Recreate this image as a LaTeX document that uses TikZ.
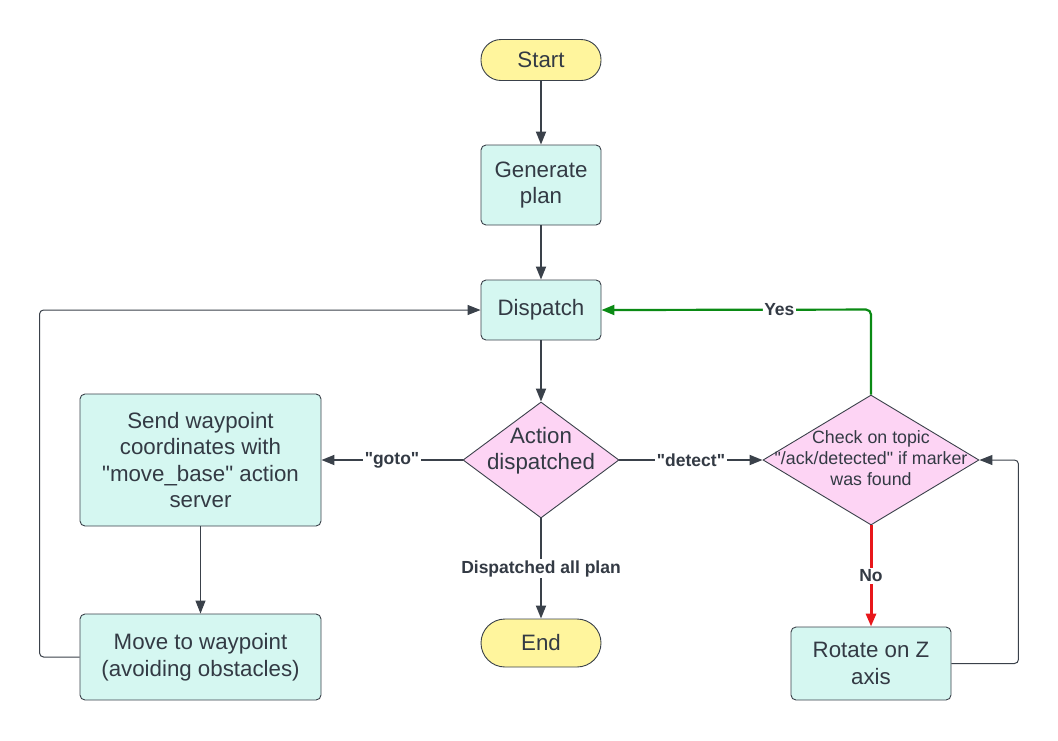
\documentclass[tikz,border=0pt]{standalone}
\usepackage{fontspec}
\setmainfont{Liberation Sans}
\usetikzlibrary{shapes.geometric, arrows.meta, positioning}
\definecolor{termYellow}{HTML}{FFF59D}
\definecolor{procTeal}{HTML}{D5F7F1}
\definecolor{decPink}{HTML}{FDD4F4}
\definecolor{lineGray}{HTML}{3A414A}
\definecolor{textGray}{HTML}{333A44}
\definecolor{yesGreen}{HTML}{0A8A14}
\definecolor{noRed}{HTML}{E8171B}
\newcommand{\qt}[1]{\textquotedbl#1\textquotedbl}

\begin{document}
\begin{tikzpicture}[x=1pt, y=-1pt,
    every node/.style={text=textGray},
    term/.style={draw=lineGray, line width=0.9pt, fill=termYellow, rounded corners=20pt, minimum width=120pt, inner sep=0pt, font=\fontsize{22.3}{26}\selectfont},
    proc/.style={draw=lineGray, line width=0.9pt, fill=procTeal, rounded corners=5pt, inner sep=0pt, align=center, font=\fontsize{22.3}{26.5}\selectfont},
    decision/.style={draw=lineGray, line width=0.9pt, fill=decPink, diamond, inner sep=0pt},
    flow/.style={draw=lineGray, line width=1.8pt, -{Triangle[length=13pt,width=10pt]}},
    thinflow/.style={draw=lineGray, line width=1pt, -{Triangle[length=13pt,width=10pt]}, rounded corners=4pt},
    tag/.style={fill=white, inner sep=1.5pt, font=\bfseries\fontsize{17.5}{20}\selectfont}
]
    \useasboundingbox (0,0) rectangle (1058,740);

    % Main column
    \node[term, minimum height=41pt] (start) at (541,60) {Start};
    \node[proc, minimum width=120pt, minimum height=80pt] (gen) at (541,185) {Generate\\plan};
    \node[proc, minimum width=120pt, minimum height=60pt] (disp) at (541,310) {Dispatch};
    \node[decision, minimum width=156pt, minimum height=116pt,
        label={[font=\fontsize{22.3}{26}\selectfont, align=center, yshift=9pt]center:{Action\\dispatched}}] (act) at (541,460) {};
    \node[term, minimum height=48pt, rounded corners=24pt] (end) at (541,643) {End};

    % goto branch
    \node[proc, minimum width=241pt, minimum height=132pt] (send) at (200.5,460) {Send waypoint\\coordinates with\\\qt{move\_base} action\\server};
    \node[proc, minimum width=241pt, minimum height=86pt] (move) at (200.5,657) {Move to waypoint\\(avoiding obstacles)};

    % detect branch
    \node[decision, minimum width=216pt, minimum height=130pt,
        label={[font=\fontsize{17.8}{21}\selectfont, align=center, yshift=2pt]center:{Check on topic\\\qt{/ack/detected} if marker\\was found}}] (chk) at (871,460) {};
    \node[proc, minimum width=160pt, minimum height=73pt] (rot) at (871,663.5) {Rotate on Z\\axis};

    % Connectors
    \draw[flow] (start) -- (gen);
    \draw[flow] (gen) -- (disp);
    \draw[flow] (disp) -- (act);
    \draw[flow] (act) -- node[tag] {\qt{goto}} (send);
    \draw[flow] (act) -- node[tag] {\qt{detect}} (chk);
    \draw[flow] (act) -- node[tag] {Dispatched all plan} (end);
    \draw[thinflow] (send) -- (move);
    \draw[thinflow] (move.west) -- ++(-40,0) |- (disp.west);
    \draw[thinflow] (rot.east) -- ++(67,0) |- (chk.east);

    % Yes / No
    \draw[flow, draw=yesGreen, line width=2.2pt, rounded corners=5pt] (chk.north) -- ++(0,-85) -- node[tag, pos=0.34] {Yes} (disp.east);
    \draw[flow, draw=noRed, line width=3pt] (chk) -- node[tag] {No} (rot);
\end{tikzpicture}
\end{document}
